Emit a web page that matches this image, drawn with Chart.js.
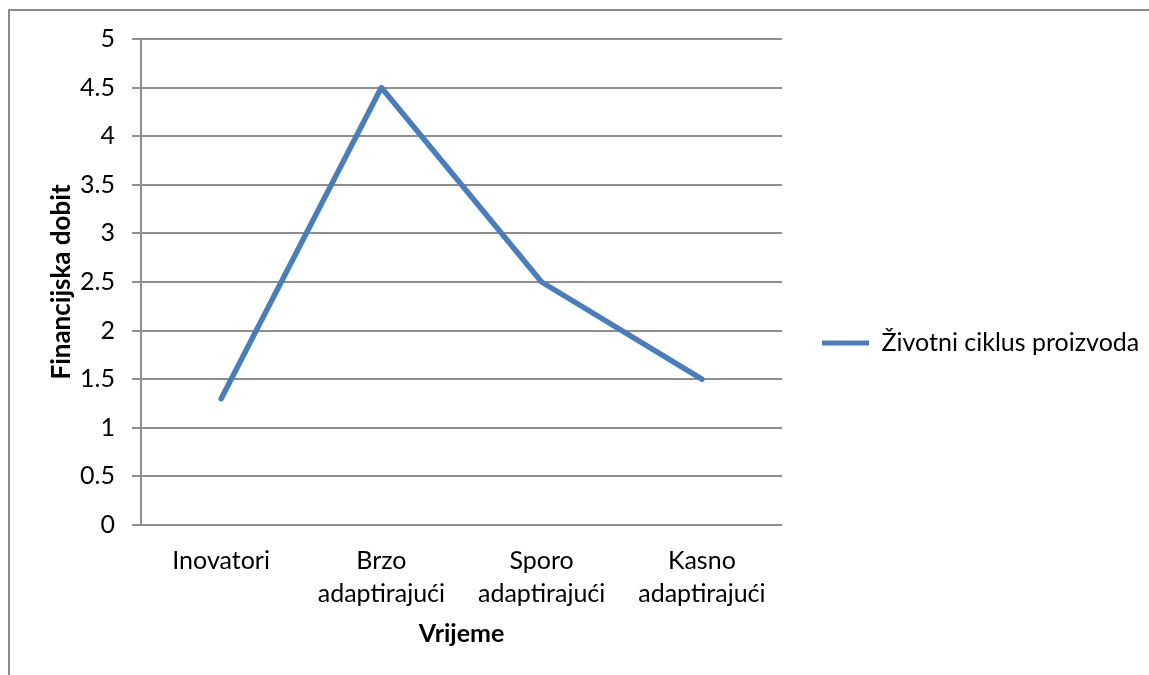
<!DOCTYPE html>
<html>
<head>
<meta charset="utf-8">
<script src="https://cdn.jsdelivr.net/npm/chart.js@4/dist/chart.umd.min.js"></script>
<style>
  html, body { margin: 0; padding: 0; background: #fff; }
  #wrap { width: 1149px; height: 675px; }
</style>
</head>
<body>
<div id="wrap"><canvas id="grafikon" width="1149" height="675"></canvas></div>
<script>
// ── Podaci ───────────────────────────────────────
const kategorije = [
  ['Inovatori'],
  ['Brzo', 'adaptirajući'],
  ['Sporo', 'adaptirajući'],
  ['Kasno', 'adaptirajući'],
];
const dobit = [1.3, 4.5, 2.5, 1.5];
const nazivSerije = 'Životni ciklus proizvoda';
const naslovX = 'Vrijeme';
const naslovY = 'Financijska dobit';
const yMin = 0, yMax = 5, yKorak = 0.5;

const COR = {
  linija: '#4A7EBB',
  mreza:  '#8E8E8E',
  tekst:  '#000000',
  okvir:  '#8C8C8C',
};
const FONT = "Lato, 'Open Sans', sans-serif";

// okvir grafikona (lijevo + gore, kao u originalu)
const okvir = {
  id: 'okvir',
  beforeDraw(chart) {
    const ctx = chart.ctx;
    ctx.save();
    ctx.fillStyle = '#fff';
    ctx.fillRect(0, 0, chart.width, chart.height);
    ctx.strokeStyle = COR.okvir;
    ctx.lineWidth = 2;
    ctx.beginPath();
    ctx.moveTo(9, chart.height);
    ctx.lineTo(9, 10);
    ctx.lineTo(chart.width, 10);
    ctx.stroke();
    ctx.restore();
  },
};

new Chart(document.getElementById('grafikon'), {
  type: 'line',
  data: {
    labels: kategorije,
    datasets: [{
      label: nazivSerije,
      data: dobit,
      borderColor: COR.linija,
      backgroundColor: COR.linija,
      borderWidth: 5.5,
      borderCapStyle: 'round',
      borderJoinStyle: 'round',
      pointRadius: 0,
      tension: 0,
    }],
  },
  options: {
    responsive: false,
    animation: false,
    layout: { padding: { left: 46, top: 39, right: 0, bottom: 28 } },
    plugins: {
      tooltip: { enabled: false },
      legend: {
        position: 'right',
        maxWidth: 367,
        labels: {
          font: { family: FONT, size: 25 },
          color: COR.tekst,
          padding: 40,
          boxWidth: 47,
          boxHeight: 5,
          generateLabels: () => [{
            text: nazivSerije,
            fillStyle: COR.linija,
            strokeStyle: COR.linija,
            lineWidth: 0,
            datasetIndex: 0,
          }],
        },
      },
    },
    scales: {
      x: {
        offset: true,
        grid: { display: false, offset: true, drawTicks: false },
        border: { display: false },
        ticks: {
          font: { family: FONT, size: 25, lineHeight: 1.32 },
          color: COR.tekst,
          padding: 19,
          maxRotation: 0,
          autoSkip: false,
        },
        title: {
          display: true,
          text: naslovX,
          font: { family: FONT, size: 25, weight: 'bold', lineHeight: 1 },
          color: COR.tekst,
          padding: { top: 0, bottom: 1 },
        },
        afterFit: (s) => { s.height = 122; },
      },
      y: {
        min: yMin,
        max: yMax,
        grid: { color: COR.mreza, lineWidth: 2, tickLength: 9 },
        border: { color: COR.mreza, width: 2 },
        ticks: {
          stepSize: yKorak,
          font: { family: FONT, size: 25 },
          color: COR.tekst,
          padding: 17,
          callback: (v) => String(v),
        },
        title: {
          display: true,
          text: naslovY,
          font: { family: FONT, size: 26, weight: 'bold', lineHeight: 1.2 },
          color: COR.tekst,
          padding: { top: 0, bottom: 0 },
        },
        afterFit: (s) => { s.width = 141 - 46; },
      },
    },
  },
  plugins: [okvir],
});
</script>
</body>
</html>
